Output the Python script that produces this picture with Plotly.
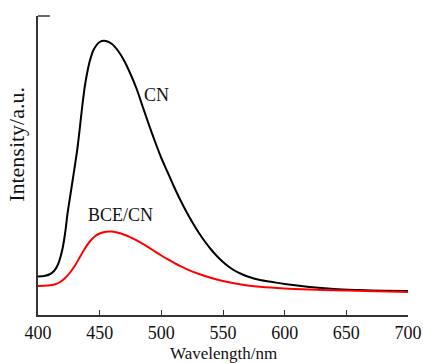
import plotly.graph_objects as go

# CN spectrum (wavelength nm, intensity a.u.)
cn_wl = [400, 405, 410, 413, 416, 418, 420, 422, 424, 426, 428, 430, 432, 434, 436, 438, 440, 442, 445,
         450, 455, 460, 465, 470, 475, 480, 485, 490, 495, 500, 505, 510, 515, 520, 525,
         530, 535, 540, 545, 550, 555, 560, 565, 570, 580, 590, 600, 620, 640, 660, 680, 700]
cn_int = [38.5, 39, 41, 44, 50, 57, 67, 82, 102, 118, 134, 150, 167, 188, 210, 229, 243, 254, 265,
          273, 274, 271, 264, 254, 241, 226, 208, 190, 173, 157, 143, 129, 116, 104, 93,
          83, 74, 66, 59, 53, 48, 44, 41, 38.5, 35, 33, 31, 28, 26, 25, 24.3, 24]

# BCE/CN spectrum
bce_wl = [400, 405, 410, 414, 418, 422, 426, 430, 434, 438, 442, 446, 450, 455, 460, 465, 470,
          475, 480, 485, 490, 495, 500, 505, 510, 515, 520, 530, 540, 550, 560, 570, 580,
          600, 620, 650, 700]
bce_int = [29, 29.2, 29.8, 30.8, 33, 37, 42.5, 49.5, 58, 66.5, 73.5, 78.5, 81.5, 83.3, 83.5, 82.3, 80.3,
           77.7, 74.7, 71.2, 67.4, 63.4, 59.5, 55.8, 52.3, 49.1, 46.2, 41.2, 37.2, 34, 31.5, 29.6, 28.2,
           26.5, 25.5, 24.4, 23]

x_ticks = [400, 450, 500, 550, 600, 650, 700]

FONT = "Liberation Serif"
AX = "#333333"
TXT = "#111111"

fig = go.Figure()
fig.add_trace(go.Scatter(x=cn_wl, y=cn_int, mode="lines",
                         line=dict(color="#000000", width=2, shape="spline", smoothing=0.8),
                         showlegend=False))
fig.add_trace(go.Scatter(x=bce_wl, y=bce_int, mode="lines",
                         line=dict(color="#ff0000", width=2, shape="spline", smoothing=0.8),
                         showlegend=False))

fig.add_annotation(x=496, y=220, text="CN", showarrow=False,
                   font=dict(family=FONT, size=18, color=TXT))
fig.add_annotation(x=466.5, y=100, text="BCE/CN", showarrow=False,
                   font=dict(family=FONT, size=18, color=TXT))

# axis titles
fig.add_annotation(xref="paper", yref="paper", x=0, y=0.569, xshift=-21, textangle=-90,
                   xanchor="center", yanchor="middle",
                   text="Intensity/a.u.", showarrow=False,
                   font=dict(family=FONT, size=22, color=TXT))
fig.add_annotation(xref="paper", yref="paper", x=0.5, y=0, yshift=-38,
                   xanchor="center", yanchor="middle",
                   text="Wavelength/nm", showarrow=False,
                   font=dict(family=FONT, size=17, color=TXT))

fig.add_shape(type="line", xref="paper", yref="paper", x0=0, x1=0.032, y0=1, y1=1,
              line=dict(color=AX, width=1.5))

fig.update_layout(
    width=423, height=363,
    margin=dict(l=38, r=15, t=16, b=48),
    paper_bgcolor="white", plot_bgcolor="white",
    font=dict(family=FONT, size=18, color=TXT),
    xaxis=dict(range=[400, 700], tickvals=x_ticks, ticktext=[str(v) for v in x_ticks],
               ticks="inside", ticklen=5, tickwidth=1.2, tickcolor=AX, automargin=False,
               showline=True, linecolor=AX, linewidth=1.5, showgrid=False, zeroline=False,
               ticklabelstandoff=1, tickfont=dict(size=18)),
    yaxis=dict(range=[0, 299], showticklabels=False, ticks="", automargin=False,
               showline=True, linecolor=AX, linewidth=1.5, showgrid=False, zeroline=False),
)

fig.write_html("out.html")
